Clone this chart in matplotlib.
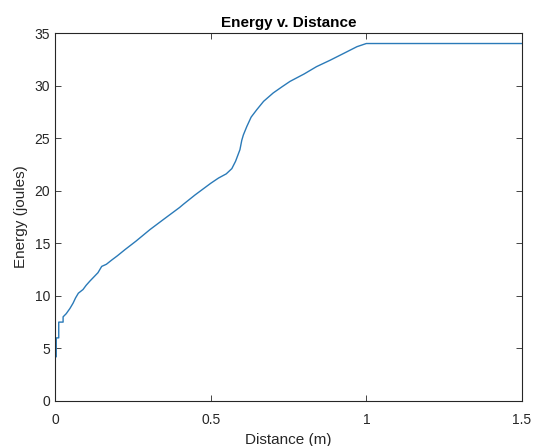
import matplotlib
matplotlib.use("Agg")
import matplotlib.pyplot as plt

plt.rcParams['font.family'] = ['Liberation Sans', 'DejaVu Sans']

# distance (m) and energy (J)
distance = [0.0, 0.0, 0.004, 0.004, 0.012, 0.012, 0.026, 0.026, 0.036, 0.048,
            0.058, 0.066, 0.075, 0.09, 0.1, 0.112, 0.125, 0.138, 0.15, 0.165,
            0.182, 0.2, 0.225, 0.26, 0.305, 0.35, 0.40, 0.412, 0.45, 0.5,
            0.525, 0.55, 0.568, 0.58, 0.594, 0.6, 0.605, 0.616, 0.63, 0.648,
            0.67, 0.701, 0.73, 0.755, 0.8, 0.84, 0.883, 0.93, 0.97, 1.0, 1.5]
energy = [0.0, 4.2, 4.2, 6.0, 6.0, 7.5, 7.5, 8.0, 8.3, 8.8,
          9.3, 9.8, 10.25, 10.6, 11.0, 11.4, 11.8, 12.2, 12.8, 13.0,
          13.4, 13.8, 14.4, 15.2, 16.3, 17.3, 18.4, 18.7, 19.6, 20.7,
          21.2, 21.6, 22.1, 22.8, 23.9, 24.8, 25.3, 26.1, 27.0, 27.7,
          28.5, 29.3, 29.9, 30.4, 31.1, 31.8, 32.4, 33.1, 33.7, 34.0, 34.0]

x_ticks = [0, 0.5, 1, 1.5]
x_labels = ['0', '0.5', '1', '1.5']
y_ticks = [0, 5, 10, 15, 20, 25, 30, 35]

fig = plt.figure(figsize=(5.34, 4.46), dpi=100)
ax = fig.add_axes([0.103, 0.101, 0.8745, 0.825])

ax.plot(distance, energy, color='#2a7ab8', lw=1.0)

ax.set_xlim(0, 1.5)
ax.set_ylim(0, 35)
ax.set_xticks(x_ticks)
ax.set_xticklabels(x_labels)
ax.set_yticks(y_ticks)

for s in ax.spines.values():
    s.set_color('#262626')
    s.set_linewidth(0.8)
ax.tick_params(direction='in', top=True, right=True, length=4, width=0.6,
               colors='#262626', labelsize=10)
ax.tick_params(axis='x', pad=9)

ax.set_title('Energy v. Distance', fontsize=11, fontweight='bold', pad=4)
ax.set_xlabel('Distance (m)', fontsize=11, color='#262626', labelpad=4)
ax.set_ylabel('Energy (joules)', fontsize=11, color='#262626', labelpad=5)

fig.savefig('out.png', dpi=100)
